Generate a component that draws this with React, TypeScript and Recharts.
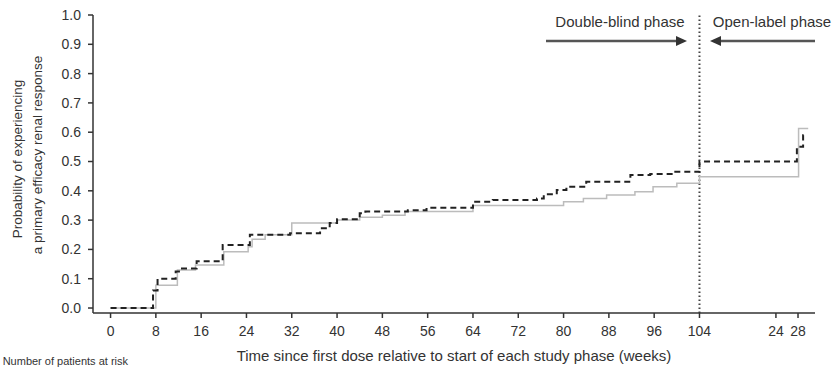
import { LineChart, Line, XAxis, YAxis, ReferenceLine } from "recharts"

// x positions on a shared axis: 0-104 = double-blind weeks, beyond 104 = open-label phase (compressed)
const xTicks = [0, 8, 16, 24, 32, 40, 48, 56, 64, 72, 80, 88, 96, 104, 117.5, 121.4]
const xTickLabels = ["0", "8", "16", "24", "32", "40", "48", "56", "64", "72", "80", "88", "96", "104", "24", "28"]
const yTicks = [0, 0.1, 0.2, 0.3, 0.4, 0.5, 0.6, 0.7, 0.8, 0.9, 1.0]

const dashedX = [0, 7.5, 8.3, 11.5, 12.4, 15.2, 19.8, 24.6, 31.7, 37, 38.7, 40, 44, 45, 52.5, 55.8, 64, 67.5, 75.3, 76.5, 78.8, 80.5, 84, 91.8, 95.3, 99.4, 104, 121.2, 122.3, 123]
const dashedY = [0, 0.06, 0.1, 0.125, 0.135, 0.16, 0.215, 0.25, 0.255, 0.272, 0.29, 0.303, 0.323, 0.329, 0.334, 0.342, 0.363, 0.369, 0.374, 0.388, 0.403, 0.414, 0.431, 0.454, 0.457, 0.465, 0.5, 0.55, 0.59, 0.59]

const grayX = [0, 8, 11.8, 15, 20, 24.3, 25, 27.3, 32, 40, 44, 48, 52, 64, 80, 83.5, 87.6, 92.6, 95.8, 100, 104, 121.5, 123.2]
const grayY = [0, 0.078, 0.13, 0.147, 0.192, 0.209, 0.235, 0.25, 0.29, 0.3, 0.31, 0.317, 0.329, 0.35, 0.363, 0.374, 0.386, 0.397, 0.414, 0.426, 0.448, 0.613, 0.613]

const dashedData = dashedX.map((w, i) => ({ w, p: dashedY[i] }))
const grayData = grayX.map((w, i) => ({ w, p: grayY[i] }))

const font = "'Liberation Sans', Arial, Helvetica, sans-serif"
const ink = "#333"

function fmtX(v: number) {
  const i = xTicks.indexOf(v)
  return i >= 0 ? xTickLabels[i] : ""
}

export default function App() {
  return (
    <div style={{ position: "absolute", left: 0, top: 0, width: 834, height: 368, background: "#fff" }}>
      <LineChart width={834} height={368} margin={{ top: 15, right: 19, left: 0, bottom: 0 }}>
        <XAxis
          dataKey="w"
          type="number"
          domain={[-3.1, 124.4]}
          ticks={xTicks}
          tickFormatter={fmtX}
          allowDataOverflow
          height={55}
          stroke={ink}
          strokeWidth={1.5}
          tickSize={5}
          tickMargin={8}
          tick={{ fill: ink, fontSize: 14, fontFamily: font }}
          interval={0}
        />
        <YAxis
          type="number"
          domain={[-0.017, 1]}
          ticks={yTicks}
          tickFormatter={(v: number) => v.toFixed(1)}
          allowDataOverflow
          width={93}
          stroke={ink}
          strokeWidth={1.5}
          tickSize={5}
          tickMargin={7}
          tick={{ fill: ink, fontSize: 14, fontFamily: font }}
          interval={0}
        />
        <ReferenceLine x={104} stroke="#444" strokeWidth={2} strokeDasharray="1.5 2.5" />
        <Line data={grayData} dataKey="p" type="stepAfter" stroke="#bcbcbc" strokeWidth={1.5} dot={false} isAnimationActive={false} />
        <Line data={dashedData} dataKey="p" type="stepAfter" stroke="#222" strokeWidth={2} strokeDasharray="6 4" dot={false} isAnimationActive={false} />
      </LineChart>
      <svg width={834} height={368} style={{ position: "absolute", left: 0, top: 0, pointerEvents: "none" }} fontFamily={font}>
        <g fill={ink} fontSize={13.5} textAnchor="middle">
          <text transform="translate(22,159) rotate(-90)">Probability of experiencing</text>
          <text transform="translate(42,155) rotate(-90)">a primary efficacy renal response</text>
        </g>
        <text x={454} y={361} fill={ink} fontSize={15} textAnchor="middle">
          Time since first dose relative to start of each study phase (weeks)
        </text>
        <text x={128} y={365} fill={ink} fontSize={11} textAnchor="end">Number of patients at risk</text>
        <text x={620} y={27} fill={ink} fontSize={15} textAnchor="middle">Double-blind phase</text>
        <text x={772} y={27} fill={ink} fontSize={15} textAnchor="middle">Open-label phase</text>
        <line x1={546} y1={41} x2={678} y2={41} stroke="#555" strokeWidth={2.5} />
        <polygon points="687,41 676,36 676,46" fill="#333" />
        <line x1={719} y1={41} x2={815} y2={41} stroke="#555" strokeWidth={2.5} />
        <polygon points="710,41 721,36 721,46" fill="#333" />
      </svg>
    </div>
  )
}
